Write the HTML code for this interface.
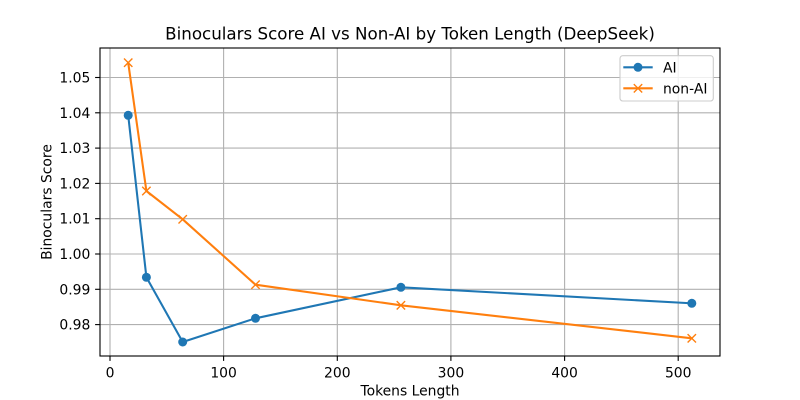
<!DOCTYPE html>
<html>
<head>
<meta charset="utf-8">
<style>
html,body{margin:0;padding:0;background:#fff;}
svg{display:block;}
text{font-family:"DejaVu Sans","Liberation Sans",sans-serif;fill:#000;}
</style>
</head>
<body>
<svg width="800" height="400" viewBox="0 0 800 400" xmlns="http://www.w3.org/2000/svg">
<rect x="0" y="0" width="800" height="400" fill="#fff"/>
<!-- grid -->
<g stroke="#b0b0b0" stroke-width="1.11" fill="none">
<line x1="110" y1="48" x2="110" y2="356"/>
<line x1="223.6" y1="48" x2="223.6" y2="356"/>
<line x1="337.3" y1="48" x2="337.3" y2="356"/>
<line x1="450.9" y1="48" x2="450.9" y2="356"/>
<line x1="564.6" y1="48" x2="564.6" y2="356"/>
<line x1="678.2" y1="48" x2="678.2" y2="356"/>
<line x1="100" y1="77.5" x2="720" y2="77.5"/>
<line x1="100" y1="112.8" x2="720" y2="112.8"/>
<line x1="100" y1="148.1" x2="720" y2="148.1"/>
<line x1="100" y1="183.4" x2="720" y2="183.4"/>
<line x1="100" y1="218.7" x2="720" y2="218.7"/>
<line x1="100" y1="254" x2="720" y2="254"/>
<line x1="100" y1="289.3" x2="720" y2="289.3"/>
<line x1="100" y1="324.6" x2="720" y2="324.6"/>
</g>
<!-- series AI -->
<polyline fill="none" stroke="#1f77b4" stroke-width="2.08" stroke-linejoin="round" stroke-linecap="square"
 points="128.2,115.3 146.4,277.3 182.7,342 255.5,318.3 400.9,287.3 691.8,303.3"/>
<g fill="#1f77b4">
<circle cx="128.2" cy="115.3" r="4.5"/>
<circle cx="146.4" cy="277.3" r="4.5"/>
<circle cx="182.7" cy="342" r="4.5"/>
<circle cx="255.5" cy="318.3" r="4.5"/>
<circle cx="400.9" cy="287.3" r="4.5"/>
<circle cx="691.8" cy="303.3" r="4.5"/>
</g>
<!-- series non-AI -->
<polyline fill="none" stroke="#ff7f0e" stroke-width="2.08" stroke-linejoin="round" stroke-linecap="square"
 points="128.2,62.7 146.4,191 182.7,219.3 255.5,284.7 400.9,305.3 691.8,338.3"/>
<g stroke="#ff7f0e" stroke-width="1.39" fill="none">
<path d="M124,58.5 L132.4,66.9 M124,66.9 L132.4,58.5"/>
<path d="M142.2,186.8 L150.6,195.2 M142.2,195.2 L150.6,186.8"/>
<path d="M178.5,215.1 L186.9,223.5 M178.5,223.5 L186.9,215.1"/>
<path d="M251.3,280.5 L259.7,288.9 M251.3,288.9 L259.7,280.5"/>
<path d="M396.7,301.1 L405.1,309.5 M396.7,309.5 L405.1,301.1"/>
<path d="M687.6,334.1 L696,342.5 M687.6,342.5 L696,334.1"/>
</g>
<!-- spines -->
<rect x="100" y="48" width="620" height="308" fill="none" stroke="#000" stroke-width="1.11"/>
<!-- ticks -->
<g stroke="#000" stroke-width="1.11">
<line x1="110" y1="356" x2="110" y2="360.9"/>
<line x1="223.6" y1="356" x2="223.6" y2="360.9"/>
<line x1="337.3" y1="356" x2="337.3" y2="360.9"/>
<line x1="450.9" y1="356" x2="450.9" y2="360.9"/>
<line x1="564.6" y1="356" x2="564.6" y2="360.9"/>
<line x1="678.2" y1="356" x2="678.2" y2="360.9"/>
<line x1="95.1" y1="77.5" x2="100" y2="77.5"/>
<line x1="95.1" y1="112.8" x2="100" y2="112.8"/>
<line x1="95.1" y1="148.1" x2="100" y2="148.1"/>
<line x1="95.1" y1="183.4" x2="100" y2="183.4"/>
<line x1="95.1" y1="218.7" x2="100" y2="218.7"/>
<line x1="95.1" y1="254" x2="100" y2="254"/>
<line x1="95.1" y1="289.3" x2="100" y2="289.3"/>
<line x1="95.1" y1="324.6" x2="100" y2="324.6"/>
</g>
<!-- x tick labels -->
<g font-size="13.9" text-anchor="middle">
<text x="110" y="377.3">0</text>
<text x="223.6" y="377.3">100</text>
<text x="337.3" y="377.3">200</text>
<text x="450.9" y="377.3">300</text>
<text x="564.6" y="377.3">400</text>
<text x="678.2" y="377.3">500</text>
</g>
<!-- y tick labels -->
<g font-size="13.9" text-anchor="end">
<text x="90.3" y="82.5">1.05</text>
<text x="90.3" y="117.8">1.04</text>
<text x="90.3" y="153.1">1.03</text>
<text x="90.3" y="188.4">1.02</text>
<text x="90.3" y="223.7">1.01</text>
<text x="90.3" y="259">1.00</text>
<text x="90.3" y="294.3">0.99</text>
<text x="90.3" y="329.6">0.98</text>
</g>
<!-- axis labels -->
<text x="410" y="395.3" font-size="13.9" text-anchor="middle">Tokens Length</text>
<text transform="translate(51.3,202) rotate(-90)" font-size="13.9" text-anchor="middle">Binoculars Score</text>
<!-- title -->
<text x="410" y="39.7" font-size="16.7" text-anchor="middle">Binoculars Score AI vs Non-AI by Token Length (DeepSeek)</text>
<!-- legend -->
<rect x="620" y="55.7" width="93.3" height="45.3" rx="2.8" ry="2.8" fill="#fff" fill-opacity="0.8" stroke="#cccccc" stroke-width="1.11"/>
<line x1="623.3" y1="67.3" x2="652.7" y2="67.3" stroke="#1f77b4" stroke-width="2.08"/>
<circle cx="638" cy="67.3" r="4.5" fill="#1f77b4"/>
<text x="663" y="72.3" font-size="13.9">AI</text>
<line x1="623.3" y1="88.3" x2="652.7" y2="88.3" stroke="#ff7f0e" stroke-width="2.08"/>
<path d="M633.8,84.1 L642.2,92.5 M633.8,92.5 L642.2,84.1" stroke="#ff7f0e" stroke-width="1.39"/>
<text x="663" y="93.3" font-size="13.9">non-AI</text>
</svg>
</body>
</html>
